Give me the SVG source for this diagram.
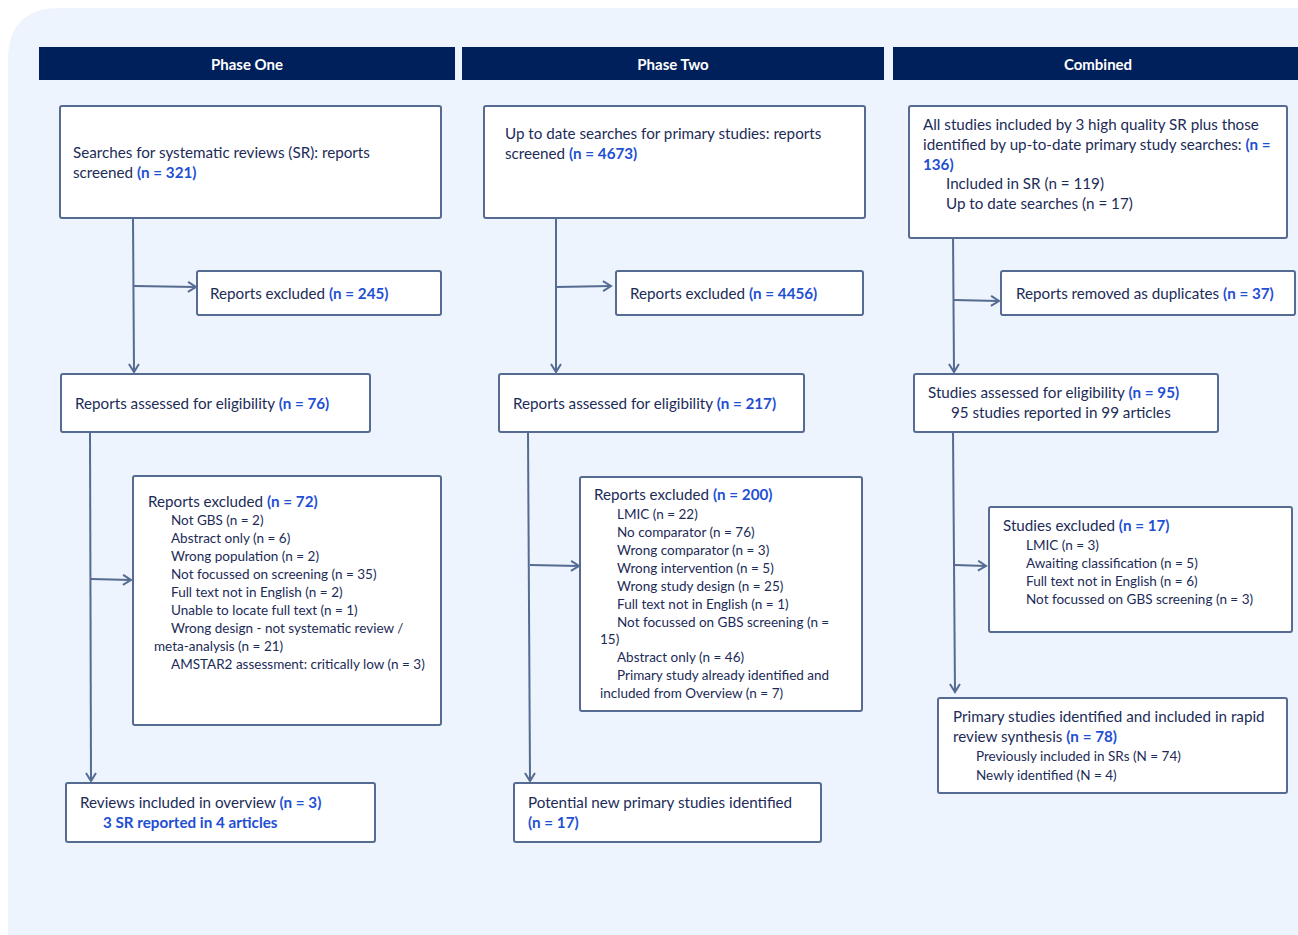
<svg xmlns="http://www.w3.org/2000/svg" width="1298" height="935" viewBox="0 0 1298 935">
<defs>
<marker id="arr" markerWidth="12" markerHeight="12" refX="10" refY="6" orient="auto" markerUnits="userSpaceOnUse">
<path d="M2,1 L10,6 L2,11" fill="none" stroke="#566b92" stroke-width="2"/>
</marker>
<style>
.bg{fill:#edf4fd}
.hdr{fill:#00205b}
.ht{fill:#ffffff;font-family:Lato,"Liberation Sans",sans-serif;font-weight:bold;font-size:15px;text-anchor:middle}
.box{fill:#ffffff;stroke:#566b92;stroke-width:2}
.t{fill:#1c2b57;font-family:Lato,"Liberation Sans",sans-serif;font-size:15.2px}
.s{fill:#1c2b57;font-family:Lato,"Liberation Sans",sans-serif;font-size:13.5px}
.n{fill:#1f4fd3;font-weight:bold}
.c{fill:none;stroke:#566b92;stroke-width:2}
</style>
</defs>
<path class="bg" d="M8,935 L8,60 Q8,8 60,8 L1298,8 L1298,935 Z"/>
<rect class="hdr" x="39" y="47" width="416" height="33"/>
<rect class="hdr" x="462" y="47" width="422" height="33"/>
<rect class="hdr" x="893" y="47" width="405" height="33"/>
<text class="ht" x="247" y="70">Phase One</text>
<text class="ht" x="673" y="70">Phase Two</text>
<text class="ht" x="1098" y="70">Combined</text>

<g id="connectors">
<path class="c" d="M133,218 L134,372" marker-end="url(#arr)"/>
<path class="c" d="M134,286 L196,287" marker-end="url(#arr)"/>
<path class="c" d="M90,432 L91,781" marker-end="url(#arr)"/>
<path class="c" d="M91,579 L131,580" marker-end="url(#arr)"/>
<path class="c" d="M556,218 L556,372" marker-end="url(#arr)"/>
<path class="c" d="M556,287 L611,286" marker-end="url(#arr)"/>
<path class="c" d="M528,432 L530,781" marker-end="url(#arr)"/>
<path class="c" d="M530,565 L579,566" marker-end="url(#arr)"/>
<path class="c" d="M953,233 L954,372" marker-end="url(#arr)"/>
<path class="c" d="M954,300 L999,301" marker-end="url(#arr)"/>
<path class="c" d="M953,432 L955,692" marker-end="url(#arr)"/>
<path class="c" d="M955,565 L986,566" marker-end="url(#arr)"/>
</g>

<g id="n1"><rect class="box" x="60" y="106" width="381" height="112" rx="2"/>
<text class="t" x="73" y="158">Searches for systematic reviews (SR): reports</text>
<text class="t" x="73" y="178">screened <tspan class="n">(n = 321)</tspan></text></g>

<g id="n2"><rect class="box" x="197" y="271" width="244" height="44" rx="2"/>
<text class="t" x="210" y="299">Reports excluded <tspan class="n">(n = 245)</tspan></text></g>

<g id="n3"><rect class="box" x="61" y="374" width="309" height="58" rx="2"/>
<text class="t" x="75" y="409">Reports assessed for eligibility <tspan class="n">(n = 76)</tspan></text></g>

<g id="n4"><rect class="box" x="133" y="476" width="308" height="249" rx="2"/>
<text class="t" x="148" y="507">Reports excluded <tspan class="n">(n = 72)</tspan></text>
<text class="s" x="171" y="525">Not GBS (n = 2)</text>
<text class="s" x="171" y="543">Abstract only (n = 6)</text>
<text class="s" x="171" y="561">Wrong population (n = 2)</text>
<text class="s" x="171" y="579">Not focussed on screening (n = 35)</text>
<text class="s" x="171" y="597">Full text not in English (n = 2)</text>
<text class="s" x="171" y="615">Unable to locate full text (n = 1)</text>
<text class="s" x="171" y="633">Wrong design - not systematic review /</text>
<text class="s" x="154" y="651">meta-analysis (n = 21)</text>
<text class="s" x="171" y="669">AMSTAR2 assessment: critically low (n = 3)</text></g>

<g id="n5"><rect class="box" x="66" y="783" width="309" height="59" rx="2"/>
<text class="t" x="80" y="808">Reviews included in overview <tspan class="n">(n = 3)</tspan></text>
<text class="t n" x="103" y="828">3 SR reported in 4 articles</text></g>

<g id="n6"><rect class="box" x="484" y="106" width="381" height="112" rx="2"/>
<text class="t" x="505" y="139">Up to date searches for primary studies: reports</text>
<text class="t" x="505" y="159">screened <tspan class="n">(n = 4673)</tspan></text></g>

<g id="n7"><rect class="box" x="616" y="271" width="247" height="44" rx="2"/>
<text class="t" x="630" y="299">Reports excluded <tspan class="n">(n = 4456)</tspan></text></g>

<g id="n8"><rect class="box" x="499" y="374" width="305" height="58" rx="2"/>
<text class="t" x="513" y="409">Reports assessed for eligibility <tspan class="n">(n = 217)</tspan></text></g>

<g id="n9"><rect class="box" x="580" y="477" width="282" height="234" rx="2"/>
<text class="t" x="594" y="500">Reports excluded <tspan class="n">(n = 200)</tspan></text>
<text class="s" x="617" y="519">LMIC (n = 22)</text>
<text class="s" x="617" y="537">No comparator (n = 76)</text>
<text class="s" x="617" y="555">Wrong comparator (n = 3)</text>
<text class="s" x="617" y="573">Wrong intervention (n = 5)</text>
<text class="s" x="617" y="591">Wrong study design (n = 25)</text>
<text class="s" x="617" y="609">Full text not in English (n = 1)</text>
<text class="s" x="617" y="627">Not focussed on GBS screening (n =</text>
<text class="s" x="600" y="644">15)</text>
<text class="s" x="617" y="662">Abstract only (n = 46)</text>
<text class="s" x="617" y="680">Primary study already identified and</text>
<text class="s" x="600" y="698">included from Overview (n = 7)</text></g>

<g id="n10"><rect class="box" x="514" y="783" width="307" height="59" rx="2"/>
<text class="t" x="528" y="808">Potential new primary studies identified</text>
<text class="t n" x="528" y="828">(n = 17)</text></g>

<g id="n11"><rect class="box" x="909" y="106" width="378" height="132" rx="2"/>
<text class="t" x="923" y="130">All studies included by 3 high quality SR plus those</text>
<text class="t" x="923" y="150">identified by up-to-date primary study searches: <tspan class="n">(n =</tspan></text>
<text class="t n" x="923" y="170">136)</text>
<text class="t" x="946" y="189">Included in SR (n = 119)</text>
<text class="t" x="946" y="209">Up to date searches (n = 17)</text></g>

<g id="n12"><rect class="box" x="1001" y="271" width="294" height="44" rx="2"/>
<text class="t" x="1016" y="299">Reports removed as duplicates <tspan class="n">(n = 37)</tspan></text></g>

<g id="n13"><rect class="box" x="914" y="374" width="304" height="58" rx="2"/>
<text class="t" x="928" y="398">Studies assessed for eligibility <tspan class="n">(n = 95)</tspan></text>
<text class="t" x="951" y="418">95 studies reported in 99 articles</text></g>

<g id="n14"><rect class="box" x="989" y="507" width="303" height="125" rx="2"/>
<text class="t" x="1003" y="531">Studies excluded <tspan class="n">(n = 17)</tspan></text>
<text class="s" x="1026" y="550">LMIC (n = 3)</text>
<text class="s" x="1026" y="568">Awaiting classification (n = 5)</text>
<text class="s" x="1026" y="586">Full text not in English (n = 6)</text>
<text class="s" x="1026" y="604">Not focussed on GBS screening (n = 3)</text></g>

<g id="n15"><rect class="box" x="938" y="698" width="349" height="95" rx="2"/>
<text class="t" x="953" y="722">Primary studies identified and included in rapid</text>
<text class="t" x="953" y="742">review synthesis <tspan class="n">(n = 78)</tspan></text>
<text class="s" x="976" y="761">Previously included in SRs (N = 74)</text>
<text class="s" x="976" y="780">Newly identified (N = 4)</text></g>
</svg>
